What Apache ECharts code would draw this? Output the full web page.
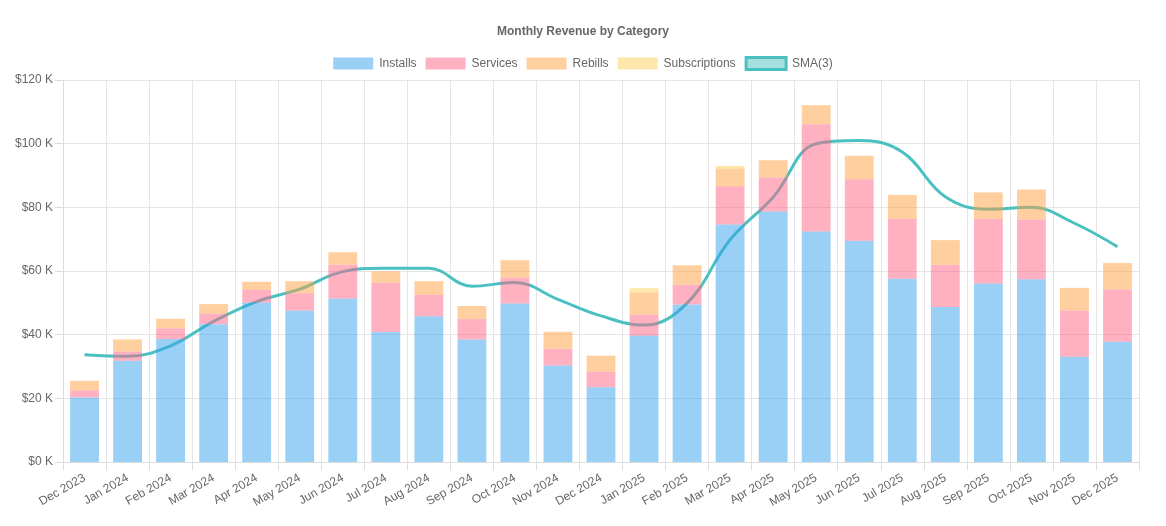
<!DOCTYPE html>
<html>
<head>
<meta charset="utf-8">
<script src="https://cdn.jsdelivr.net/npm/echarts@6/dist/echarts.min.js"></script>
<style>
  html, body { margin: 0; padding: 0; background: #fff; }
  #chart { width: 1166px; height: 526px; }
</style>
</head>
<body>
<div id="chart"></div>
<script>
// months on the x axis
var months = ['Dec 2023', 'Jan 2024', 'Feb 2024', 'Mar 2024', 'Apr 2024', 'May 2024', 'Jun 2024',
  'Jul 2024', 'Aug 2024', 'Sep 2024', 'Oct 2024', 'Nov 2024', 'Dec 2024', 'Jan 2025', 'Feb 2025',
  'Mar 2025', 'Apr 2025', 'May 2025', 'Jun 2025', 'Jul 2025', 'Aug 2025', 'Sep 2025', 'Oct 2025',
  'Nov 2025', 'Dec 2025'];
// revenue in thousands
var installs = [20.3, 31.8, 38.6, 43.3, 50.1, 47.6, 51.4, 40.8, 45.8, 38.5, 49.8, 30.3, 23.5,
  39.7, 49.5, 74.6, 78.7, 72.4, 69.5, 57.6, 48.7, 56.1, 57.4, 33.1, 37.8];
var services = [2.2, 2.9, 3.4, 3.3, 4.0, 5.4, 10.6, 15.5, 6.7, 6.4, 8.1, 5.3, 4.9,
  6.6, 6.2, 12.0, 10.7, 33.7, 19.3, 18.8, 13.2, 20.3, 18.8, 14.5, 16.4];
var rebills = [3.0, 3.8, 3.0, 3.0, 2.5, 3.8, 3.9, 3.6, 4.3, 4.1, 5.5, 5.3, 5.0,
  7.0, 6.1, 5.6, 5.4, 6.0, 7.4, 7.5, 7.8, 8.3, 9.4, 7.1, 8.3];
var subscriptions = [0, 0, 0, 0, 0, 0, 0, 0, 0, 0, 0, 0, 0,
  1.3, 0, 0.8, 0, 0, 0, 0, 0, 0, 0, 0, 0];
var sma3 = [33.7, 33.2, 36.5, 44.2, 50.4, 54.3, 59.8, 60.9, 60.9, 55.2, 56.4, 51.1, 45.9,
  43.0, 49.9, 69.8, 83.2, 100.0, 101.0, 97.4, 83.3, 79.4, 80.0, 75.0, 67.6];
var yTicks = [0, 20, 40, 60, 80, 100, 120];

var font = 'Liberation Sans, Arial, Helvetica, sans-serif';
var chart = echarts.init(document.getElementById('chart'));

function barSeries(name, data, color) {
  return {
    name: name,
    type: 'bar',
    stack: 'revenue',
    data: data,
    barWidth: '67%',
    z: 3,
    itemStyle: { color: color },
    emphasis: { disabled: true }
  };
}

var option = {
  animation: false,
  textStyle: { fontFamily: font },
  title: {
    text: 'Monthly Revenue by Category',
    left: 'center',
    top: 21,
    textStyle: { fontSize: 12, fontWeight: 'bold', color: '#666', fontFamily: font }
  },
  legend: {
    top: 51,
    left: 'center',
    itemWidth: 40,
    itemHeight: 12,
    itemGap: 9,
    textStyle: { fontSize: 12, color: '#666', fontFamily: font, padding: [0, 0, 0, 1] },
    data: [
      { name: 'Installs', icon: 'rect' },
      { name: 'Services', icon: 'rect' },
      { name: 'Rebills', icon: 'rect' },
      { name: 'Subscriptions', icon: 'rect' },
      { name: 'SMA(3)', icon: 'rect',
        itemStyle: { color: 'rgba(75,192,192,0.5)', borderColor: '#4BC0C0', borderWidth: 3 } }
    ]
  },
  grid: { left: 63, right: 27, top: 80, bottom: 64 },
  xAxis: {
    type: 'category',
    data: months,
    boundaryGap: true,
    axisLine: { show: true, lineStyle: { color: '#ddd' } },
    axisTick: { show: true, length: 8, lineStyle: { color: '#ddd' } },
    splitLine: { show: true, lineStyle: { color: '#e5e5e5' } },
    axisLabel: { rotate: 30, fontSize: 12, color: '#666', margin: 15, fontFamily: font }
  },
  yAxis: {
    type: 'value',
    min: yTicks[0],
    max: yTicks[yTicks.length - 1],
    interval: 20,
    axisLine: { show: true, lineStyle: { color: '#ddd' } },
    axisTick: { show: true, length: 8, lineStyle: { color: '#ddd' } },
    splitLine: { show: true, lineStyle: { color: '#e5e5e5' } },
    axisLabel: {
      fontSize: 12, color: '#666', margin: 10, fontFamily: font,
      formatter: function (v) { return '$' + v + ' K'; }
    }
  },
  series: [
    barSeries('Installs', installs, 'rgba(54,162,235,0.5)'),
    barSeries('Services', services, 'rgba(255,99,132,0.5)'),
    barSeries('Rebills', rebills, 'rgba(255,159,64,0.5)'),
    barSeries('Subscriptions', subscriptions, 'rgba(255,205,86,0.5)'),
    {
      name: 'SMA(3)',
      type: 'line',
      data: sma3,
      smooth: 0.4,
      showSymbol: false,
      symbol: 'none',
      z: 1,
      lineStyle: { color: '#4BC0C0', width: 3 },
      itemStyle: { color: 'rgba(75,192,192,0.5)', borderColor: '#4BC0C0', borderWidth: 3 }
    }
  ]
};

chart.setOption(option);
</script>
</body>
</html>
